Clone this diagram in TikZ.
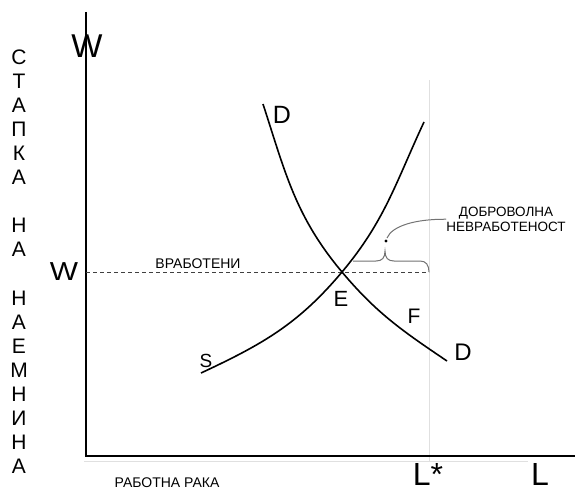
\documentclass[tikz,border=0pt]{standalone}
\usepackage{fontspec}
\setmainfont{Liberation Sans}
\begin{document}
\begin{tikzpicture}[x=1pt,y=-1pt,
  axisline/.style={line width=2pt,black},
  guide/.style={line width=1pt,black!12},
  curveline/.style={line width=1.6pt,black},
  thinline/.style={line width=1pt,black!55},
  lbl/.style={inner sep=0pt,anchor=base},
  vlet/.style={lbl,font=\fontsize{21}{21}\selectfont},
  small/.style={lbl,font=\fontsize{14}{14}\selectfont}]
\useasboundingbox (0,0) rectangle (575,495);
\fill[white] (0,0) rectangle (575,495);
% coordinates
\coordinate (O) at (86,456);
\coordinate (ytop) at (86,12);
\coordinate (xend) at (575,456);
\coordinate (gtop) at (429,80);
\coordinate (gbot) at (429,462);
\coordinate (hl) at (84,461);
\coordinate (hr) at (528,461);
\coordinate (wa) at (86,272);
\coordinate (wb) at (429,272);
\coordinate (E) at (342,272);
\coordinate (d1) at (263,104);
\coordinate (d2) at (447,361);
\coordinate (s1) at (201,373);
\coordinate (s2) at (424,122);
\coordinate (dot) at (386,241);
% guides
\draw[guide] (gtop) -- (gbot);
\draw[guide] (hl) -- (hr);
% axes
\draw[axisline] (ytop) -- (O) -- (xend);
% dashed wage line
\draw[dashed,line width=0.8pt,black!75,dash pattern=on 4pt off 3pt] (wa) -- (wb);
% curves
\draw[curveline] (d1) to[out=-72,in=130] (E) to[out=-50,in=146] (d2);
\draw[curveline] (s1) to[out=25,in=-130] (E) to[out=50,in=-115] (s2);
% brace
\coordinate (b1) at (353,261);
\coordinate (btip) at (385,251);
\draw[thinline] (b1) -- (376,261) .. controls (382,261) and (385,258) .. (btip)
  .. controls (385,258) and (388,261) .. (394,261) -- (420,261)
  .. controls (426,261) and (429,265) .. (wb);
% labels
\node[lbl,font=\fontsize{33}{33}\selectfont] (wtop) at (87,57) {W};
\node[lbl,font=\fontsize{26}{26}\selectfont,xscale=1.15] (wleft) at (64,280) {W};
\node[lbl,font=\fontsize{25}{25}\selectfont] (dup) at (282,123) {D};
\node[lbl,font=\fontsize{24}{24}\selectfont] (ddown) at (463,360) {D};
\node[lbl,font=\fontsize{19}{19}\selectfont] (slab) at (206,367) {S};
\node[lbl,font=\fontsize{22}{22}\selectfont] (elab) at (341,306) {E};
\node[lbl,font=\fontsize{21}{21}\selectfont] (flab) at (414,323) {F};
\node[lbl,font=\fontsize{32}{32}\selectfont] (lstar) at (428,485) {L*};
\node[lbl,font=\fontsize{32}{32}\selectfont] (llab) at (540,485) {L};
\node[small] (vrab) at (198,268) {ВРАБОТЕНИ};
\node[small] (rab) at (167,487) {РАБОТНА РАКА};
\node[inner sep=0pt,anchor=north,align=center,font=\fontsize{13.5}{14.5}\selectfont] (note) at (506,207) {ДОБРОВОЛНА\\НЕВРАБОТЕНОСТ};
% callout
\draw[thinline] (note.west) .. controls (415,219) and (392,226) .. (387,238);
\fill[black] (dot) circle (1.6);
% vertical label
\foreach \i/\ch in {0/С,1/Т,2/А,3/П,4/К,5/А,7/Н,8/А,10/Н,11/А,12/Е,13/М,14/Н,15/И,16/Н,17/А}
  \node[vlet] (v\i) at (19,64.5+24.06*\i) {\ch};
\end{tikzpicture}
\end{document}
